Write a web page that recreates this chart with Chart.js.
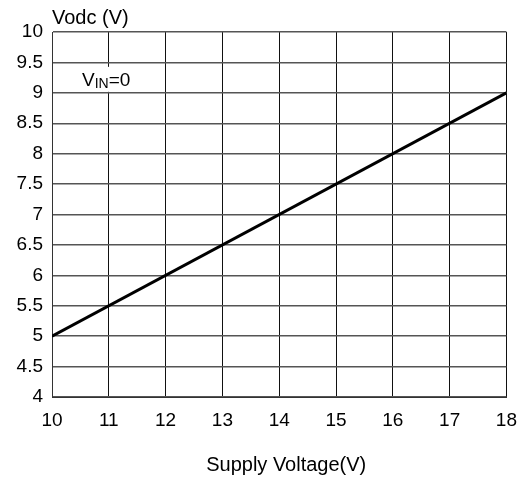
<!DOCTYPE html>
<html>
<head>
<meta charset="utf-8">
<script src="https://cdn.jsdelivr.net/npm/chart.js@4"></script>
<style>
    html, body { margin: 0; padding: 0; background: #fff; }
    canvas { display: block; }
</style>
</head>
<body>
<canvas id="vodcChart" width="529" height="479"></canvas>
<script>
    // supply voltage (V) vs output Vdc (V), VIN = 0
    const supplyVoltage = [10, 18];
    const vodc = [5, 9];
    const xTicks = [10, 11, 12, 13, 14, 15, 16, 17, 18];
    const yTicks = [4, 4.5, 5, 5.5, 6, 6.5, 7, 7.5, 8, 8.5, 9, 9.5, 10];

    const fontFamily = 'Arial, "Liberation Sans", sans-serif';

    // extra texts: axis titles and the VIN=0 note
    const labelsPlugin = {
        id: 'labels',
        afterDraw(chart) {
            const c = chart.ctx;
            const area = chart.chartArea;
            const y = chart.scales.y;
            c.save();
            c.fillStyle = '#000';
            c.font = '20px ' + fontFamily;
            c.textBaseline = 'alphabetic';
            c.textAlign = 'left';
            c.fillText('Vodc (V)', area.left, 24);

            c.textAlign = 'center';
            c.fillText('Supply Voltage(V)', (area.left + area.right) / 2 + 7, 471);

            // note with white box over the grid
            const nx = area.left + 30;
            const ny = y.getPixelForValue(9);
            c.fillStyle = '#fff';
            c.fillRect(nx - 2, ny - 26, 52, 25);
            c.fillStyle = '#000';
            c.textAlign = 'left';
            c.font = '19px ' + fontFamily;
            c.fillText('V', nx, ny - 7);
            let w = c.measureText('V').width;
            c.font = '14px ' + fontFamily;
            c.fillText('IN', nx + w, ny - 5);
            w += c.measureText('IN').width;
            c.font = '19px ' + fontFamily;
            c.fillText('=0', nx + w, ny - 7);
            c.restore();
        }
    };

    new Chart(document.getElementById('vodcChart').getContext('2d'), {
        type: 'line',
        data: {
            datasets: [{
                data: supplyVoltage.map((v, i) => ({x: v, y: vodc[i]})),
                borderColor: '#000',
                borderWidth: 3,
                pointRadius: 0,
                fill: false,
                tension: 0
            }]
        },
        options: {
            responsive: false,
            animation: false,
            layout: {padding: {top: 32, right: 20, left: 0, bottom: 0}},
            plugins: {
                legend: {display: false},
                tooltip: {enabled: false}
            },
            scales: {
                x: {
                    type: 'linear',
                    min: 10,
                    max: 18,
                    afterBuildTicks: (scale) => { scale.ticks = xTicks.map(v => ({value: v})); },
                    afterFit: (scale) => { scale.height = 82; },
                    grid: {color: '#111', lineWidth: 1, drawTicks: false},
                    border: {color: '#333', width: 1},
                    ticks: {
                        color: '#000',
                        padding: 12,
                        maxRotation: 0,
                        font: {family: fontFamily, size: 19},
                        callback: (v) => String(v)
                    }
                },
                y: {
                    min: 4,
                    max: 10,
                    afterBuildTicks: (scale) => { scale.ticks = yTicks.map(v => ({value: v})); },
                    afterFit: (scale) => { scale.width = 52; },
                    grid: {color: '#555', lineWidth: 1.5, drawTicks: false},
                    border: {color: '#333', width: 1},
                    ticks: {
                        color: '#000',
                        padding: 9,
                        font: {family: fontFamily, size: 19},
                        callback: (v) => String(v)
                    }
                }
            }
        },
        plugins: [labelsPlugin]
    });
</script>
</body>
</html>
